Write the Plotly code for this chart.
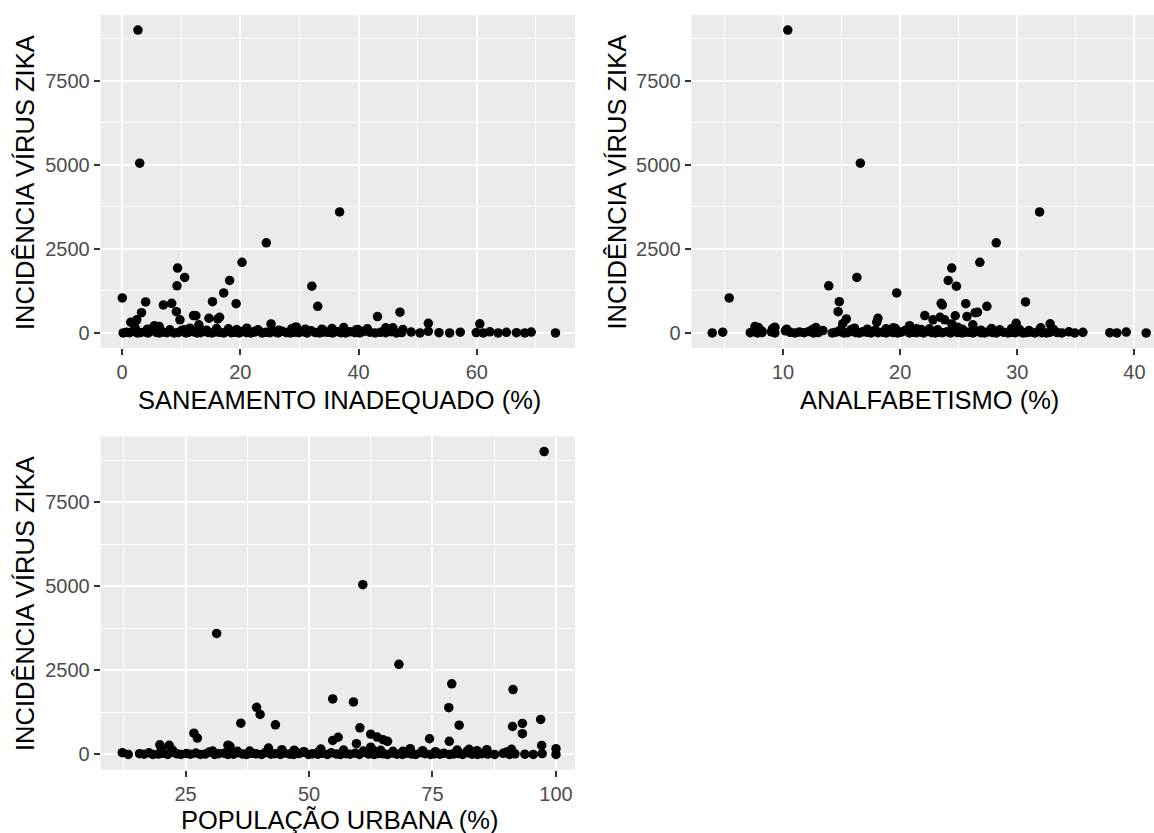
import plotly.graph_objects as go

# ---------------- data ----------------
# municipalities with a visible incidence (outliers / moderate values)
incid_out = [9010, 5050, 3600, 2680, 2100, 1930, 1650, 1560, 1400, 1390,
             1190, 1040, 930, 920, 880, 870, 830, 790, 630, 615,
             600, 515, 510, 485, 465, 435, 415, 390, 390, 320,
             285, 270, 265, 240, 215, 275, 190, 170, 160, 150,
             140, 120, 110, 100, 50]
san_out = [2.7, 3.0, 36.8, 24.4, 20.3, 9.4, 10.6, 18.2, 9.3, 32.1,
           17.2, 0.05, 15.3, 4.0, 8.4, 19.3, 7.0, 33.1, 9.2, 47.0,
           3.3, 12.1, 12.5, 43.2, 16.5, 14.7, 16.2, 2.5, 9.8, 1.5,
           51.8, 60.5, 25.2, 13.0, 5.5, 1.9, 6.3, 29.5, 37.5, 44.6,
           21.1, 28.7, 33.8, 39.9, 22.5]
analf_out = [10.4, 16.6, 31.9, 28.2, 26.8, 24.4, 16.3, 24.1, 13.9, 24.8,
             19.7, 5.4, 14.8, 30.7, 23.5, 25.6, 23.6, 27.4, 14.7, 26.6,
             26.4, 22.1, 24.7, 25.7, 23.4, 18.1, 15.4, 22.8, 23.8, 18.0,
             29.9, 32.8, 24.4, 26.2, 20.8, 15.1, 7.6, 9.3, 12.8, 19.4,
             29.7, 21.4, 27.8, 33.1, 8.2]
urb_out = [97.6, 60.9, 31.3, 68.2, 78.9, 91.3, 54.8, 59.0, 39.4, 78.3,
           40.1, 96.9, 36.2, 93.2, 43.2, 80.4, 91.2, 60.3, 26.7, 93.2,
           62.5, 63.8, 55.9, 27.4, 74.4, 65.0, 54.8, 78.4, 65.9, 59.6,
           19.8, 21.7, 97.1, 34.0, 62.5, 33.6, 41.8, 100.0, 52.4, 82.4,
           86.0, 47.0, 70.3, 91.0, 12.2]

# municipalities with small incidence (bumps just above the band)
incid_small = [160, 120, 100, 90, 140, 110, 80, 130, 100, 120,
               90, 170, 110, 80, 130, 90, 120, 70, 150, 100,
               80, 120, 90, 110]
san_small = [2.2, 5.0, 6.1, 8.1, 11.5, 13.2, 14.3, 16.0, 19.4, 21.1,
             23.0, 29.3, 31.0, 34.0, 35.5, 39.6, 41.5, 44.5, 45.8, 47.5,
             26.5, 18.0, 10.5, 4.3]
analf_small = [7.9, 9.1, 12.5, 14.9, 16.1, 17.2, 17.9, 19.6, 21.8, 22.5,
               23.2, 24.9, 25.3, 26.9, 27.8, 28.5, 29.5, 31.0, 32.0, 30.2,
               20.5, 18.8, 15.8, 10.3]
urb_small = [20.2, 22.4, 30.5, 35.5, 44.5, 47.0, 52.0, 57.0, 61.0, 63.0,
             67.0, 70.5, 73.0, 75.6, 80.0, 82.0, 86.0, 90.0, 91.0, 38.0,
             49.0, 64.5, 69.0, 84.0]

# municipalities with incidence close to zero (the dense band)
incid_base = [0, 20, 5, 45, 0, 10, 30, 0, 60, 15, 0, 25, 5, 40, 0, 10, 70, 0, 20, 35,
              0, 5, 50, 10, 0, 30, 15, 0, 55, 5, 20, 0, 40, 10, 0, 25, 65, 0, 15, 5,
              30, 0, 45, 10, 0, 20, 5, 35, 0, 60, 10, 0, 25, 15, 0, 40, 5, 0, 30, 10,
              0, 50, 20, 0, 15, 5, 35, 0, 10, 25, 0, 45, 5, 0, 20, 10, 0, 30, 0, 15,
              5, 0, 25, 0]
san_base = [0.2, 0.8, 1.3, 2.0, 2.6, 3.1, 3.9, 4.4, 5.0, 5.8,
            6.3, 6.9, 7.6, 8.2, 8.8, 9.5, 10.1, 10.8, 11.3, 12.0,
            12.7, 13.3, 13.9, 14.6, 15.2, 15.9, 16.5, 17.2, 17.8, 18.5,
            19.1, 19.8, 20.4, 21.1, 21.8, 22.4, 23.1, 23.7, 24.4, 25.0,
            25.8, 26.4, 27.1, 27.8, 28.5, 29.2, 29.9, 30.6, 31.3, 32.0,
            32.7, 33.4, 34.1, 34.8, 35.6, 36.3, 37.0, 37.8, 38.6, 39.4,
            40.2, 41.0, 41.9, 42.8, 43.7, 44.6, 45.5, 46.4, 47.3,
            48.9, 50.4, 51.8, 53.6, 55.4, 57.2, 59.9, 61.1, 62.2, 63.6,
            65.0, 66.7, 68.1, 69.2, 73.3]
analf_base = [3.95, 4.85, 7.2, 7.5, 7.8, 8.2, 9.0, 9.3,
              10.2, 10.6, 11.0, 11.4, 11.8, 12.2, 12.6, 13.0, 13.4,
              14.2, 14.5, 14.9, 15.2, 15.5, 15.8, 16.2, 16.5, 16.8, 17.2,
              17.5, 17.8, 18.1, 18.5, 18.8, 19.1, 19.4, 19.8, 20.1, 20.4,
              20.8, 21.1, 21.4, 21.7, 22.0, 22.4, 22.7, 23.0, 23.3, 23.6,
              24.0, 24.3, 24.6, 24.9, 25.3, 25.6, 25.9, 26.2, 26.6, 26.9,
              27.2, 27.5, 27.9, 28.2, 28.5, 28.8, 29.2, 29.5, 29.8, 30.1,
              30.5, 30.8, 31.1, 31.5, 31.8, 32.1, 32.5, 32.8, 33.4,
              33.8, 34.4, 34.9, 35.6, 37.9, 38.5, 39.3, 41.0]
urb_base = [13.4,
            15.7, 16.6, 17.6, 18.4, 19.5, 20.3, 21.4, 22.2, 23.3, 24.1,
            25.2, 26.0, 27.1, 28.0, 29.0, 29.8, 30.9, 31.7, 32.8, 33.6,
            34.7, 35.5, 36.6, 37.4, 38.5, 39.3, 40.4, 41.2, 42.3, 43.1,
            44.2, 45.0, 46.1, 46.9, 48.0, 48.8, 49.9, 50.7, 51.8, 52.6,
            53.7, 54.5, 55.6, 56.4, 57.5, 58.3, 59.4, 60.2, 61.3, 62.1,
            63.2, 64.0, 65.1, 65.9, 67.0, 67.8, 68.9, 69.7, 70.8, 71.6,
            72.7, 73.5, 74.6, 75.4, 76.5, 77.3, 78.4, 79.2, 80.3, 81.1,
            82.2, 83.0, 84.1, 85.0, 86.2, 87.6,
            89.3, 90.6, 91.7, 93.7, 95.4, 97.2, 100.0]

incidencia = incid_out + incid_small + incid_base
saneamento = san_out + san_small + san_base
analfabetismo = analf_out + analf_small + analf_base
pop_urbana = urb_out + urb_small + urb_base

y_ticks = [0, 2500, 5000, 7500]
y_minor = [1250, 3750, 6250, 8750]
san_ticks = [0, 20, 40, 60]
san_minor = [10, 30, 50, 70]
analf_ticks = [10, 20, 30, 40]
analf_minor = [5, 15, 25, 35]
urb_ticks = [25, 50, 75, 100]
urb_minor = [12.5, 37.5, 62.5, 87.5]

y_title = "INCIDÊNCIA VÍRUS ZIKA"
x_titles = ["SANEAMENTO INADEQUADO (%)", "ANALFABETISMO (%)", "POPULAÇÃO URBANA (%)"]

# ---------------- figure ----------------
W, H = 1154, 833
FONT = "Liberation Sans, Arial, sans-serif"


def fx(p):
    return p / W


def fy(p):
    return 1 - p / H


marker = dict(color="black", size=9.5, line=dict(width=0))
fig = go.Figure()
for xs, xa, ya in [(saneamento, "x", "y"), (analfabetismo, "x2", "y2"), (pop_urbana, "x3", "y3")]:
    fig.add_trace(go.Scatter(x=xs, y=incidencia, mode="markers", marker=marker,
                             xaxis=xa, yaxis=ya, hoverinfo="skip", showlegend=False))


def axis(tickvals, minorvals, rng, domain, anchor):
    return dict(
        domain=domain, range=rng, anchor=anchor, autorange=False,
        tickmode="array", tickvals=tickvals, ticktext=[str(v) for v in tickvals],
        showgrid=True, gridcolor="white", gridwidth=1.9,
        zeroline=False, showline=False,
        ticks="outside", ticklen=6, tickwidth=1.5, tickcolor="#333333",
        tickfont=dict(family=FONT, size=20, color="#4D4D4D"),
        minor=dict(tickmode="array", tickvals=minorvals, showgrid=True,
                   gridcolor="white", gridwidth=1.0, ticks=""),
    )


top_row = [fy(348), fy(15)]
bot_row = [fy(769.5), fy(436.5)]
left_col = [fx(100.7), fx(575)]
right_col = [fx(691.6), 1.0]

fig.update_layout(
    width=W, height=H,
    margin=dict(l=0, r=0, t=0, b=0),
    paper_bgcolor="white", plot_bgcolor="#EBEBEB",
    showlegend=False,
    xaxis=axis(san_ticks, san_minor, [-3.6, 76.6], left_col, "y"),
    yaxis=axis(y_ticks, y_minor, [-450, 9460], top_row, "x"),
    xaxis2=axis(analf_ticks, analf_minor, [2.19, 41.67], right_col, "y2"),
    yaxis2=axis(y_ticks, y_minor, [-450, 9460], top_row, "x2"),
    xaxis3=axis(urb_ticks, urb_minor, [7.83, 103.85], left_col, "y3"),
    yaxis3=axis(y_ticks, y_minor, [-450, 9460], bot_row, "x3"),
)

title_font = dict(family=FONT, size=25.5, color="black")
ann = []
# y titles
for xp, yp in [(24.5, 182.5), (616, 182.5), (24.5, 603.5)]:
    ann.append(dict(text=y_title, x=fx(xp), y=fy(yp), xref="paper", yref="paper",
                    textangle=-90, showarrow=False, font=title_font,
                    xanchor="center", yanchor="middle"))
# x titles
for txt, xp, yp in [(x_titles[0], 339.5, 399.5), (x_titles[1], 929.5, 399.5), (x_titles[2], 339.5, 820)]:
    ann.append(dict(text=txt, x=fx(xp), y=fy(yp), xref="paper", yref="paper",
                    showarrow=False, font=title_font, xanchor="center", yanchor="middle"))
fig.update_layout(annotations=ann)

fig.write_html("out.html")
